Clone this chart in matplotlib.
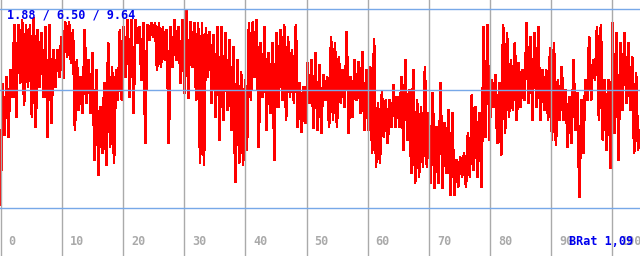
import numpy as np
import matplotlib
matplotlib.use("Agg")
import matplotlib.pyplot as plt
from matplotlib.transforms import blended_transform_factory

# per-column extremes (left to right)
peaks = [6.72, 6.99, 7.27, 9.02, 9.02, 9.22, 9.02, 9.02, 9.30, 8.83, 8.71, 8.95,
         9.02, 8.05, 8.05, 8.55, 9.14, 9.14, 8.83, 7.66, 6.99, 8.83, 7.66, 7.93,
         7.27, 5.82, 6.76, 8.32, 7.38, 7.27, 8.83, 8.95, 9.22, 9.22, 9.22, 8.95,
         9.10, 9.02, 9.10, 9.10, 9.10, 8.95, 8.83, 8.95, 9.22, 8.95, 9.22,
         9.61, 9.14, 9.10, 9.10, 9.10, 8.91, 8.75, 8.63, 8.95, 8.95, 8.71, 8.44,
         8.16, 7.66, 7.19, 6.88, 9.10, 9.14, 9.22, 8.32, 8.95, 7.93, 8.32,
         8.71, 8.83, 9.02, 8.55, 8.05, 9.02, 6.76, 6.60, 7.54, 7.66, 7.93, 7.46,
         7.07, 6.99, 8.55, 8.32, 7.77, 7.27, 8.75, 6.99, 7.66, 7.58, 7.97,
         7.27, 7.38, 8.48, 5.98, 6.41, 6.09, 6.09, 6.68, 6.21, 6.99, 7.66, 6.48,
         7.27, 6.09, 5.82, 7.38, 5.59, 6.37, 5.04, 6.76, 5.20, 5.70, 5.59,
         3.75, 3.87, 4.02, 4.80, 6.29, 5.82, 5.59, 8.95, 9.02, 6.88, 7.07, 6.76,
         9.02, 8.71, 7.66, 8.32, 7.54, 7.27, 9.10, 8.55, 8.71, 8.95, 7.27,
         7.27, 8.12, 8.32, 6.88, 7.38, 6.48, 6.21, 7.66, 6.37, 6.09, 6.88, 8.55,
         7.66, 8.95, 9.02, 6.88, 6.88, 9.10, 8.71, 8.32, 8.71, 8.32, 7.77, 7.15,
         4.92]

troughs = [1.99, 4.73, 4.65, 6.21, 5.43, 6.76, 5.90, 6.60, 5.43, 5.04, 6.60, 6.21,
           4.65, 5.20, 6.60, 6.99, 6.95, 7.77, 7.54, 4.92, 5.70, 5.59, 5.98, 5.59,
           3.75, 3.16, 4.02, 3.55, 4.26, 3.63, 6.09, 6.09, 6.99, 6.21, 5.59, 8.32,
           6.88, 4.41, 8.44, 8.55, 7.27, 7.38, 7.66, 4.41, 7.38, 7.66, 6.76,
           6.37, 6.17, 7.38, 6.09, 3.63, 3.55, 6.99, 5.98, 5.43, 4.53, 5.31, 5.70,
           4.92, 2.89, 3.63, 3.55, 4.14, 6.09, 6.99, 4.26, 6.21, 4.92, 5.59,
           3.75, 5.82, 6.09, 5.31, 6.21, 5.98, 5.04, 4.84, 5.20, 5.98, 5.00, 4.92,
           4.80, 6.09, 5.04, 5.31, 5.04, 5.98, 5.82, 4.80, 5.43, 6.09, 5.59,
           4.92, 4.92, 4.02, 3.48, 3.63, 4.65, 4.41, 5.04, 5.04, 5.04, 4.14, 4.53,
           3.24, 2.85, 3.09, 3.48, 3.48, 2.85, 2.66, 2.85, 2.66, 3.24, 2.38,
           2.38, 2.70, 3.09, 2.70, 3.09, 3.36, 3.09, 2.70, 4.65, 4.53, 5.82, 4.41,
           3.95, 4.80, 5.43, 5.70, 5.31, 5.82, 6.09, 5.98, 5.31, 5.82, 5.31,
           5.70, 5.31, 4.53, 4.34, 5.31, 5.31, 4.26, 4.41, 4.92, 2.30, 4.02, 6.09,
           6.09, 6.88, 5.31, 4.53, 4.14, 3.44, 4.80, 3.75, 5.70, 5.98, 5.70, 4.02,
           4.14]

levels = [1.88, 6.50, 9.64]
xticks = [0, 10, 20, 30, 40, 50, 60, 70, 80, 90, 100]
summary = "1.88 / 6.50 / 9.64"
ratio_label = "BRat 1,09"

series = np.column_stack([troughs, peaks]).ravel()
x = np.linspace(0, 104.5, len(series))

fig = plt.figure(figsize=(6.4, 2.56), dpi=100)
ax = fig.add_axes([0, 0, 1, 1])
ax.set_xlim(-0.1, 104.5)
ax.set_ylim(0, 10)
ax.axis("off")

ax.plot(x, series, color="#ff0000", lw=1.2, antialiased=False, zorder=2)

for t in xticks:
    ax.axvline(t, color="#aaaaaa", lw=1, zorder=3)
for v in levels:
    ax.axhline(v, color="#77a8e8", lw=1, zorder=3)

trans = blended_transform_factory(ax.transData, ax.transAxes)
for t in xticks:
    ax.text(t + 1.3, 0.058, str(t), transform=trans, color="#aaaaaa",
            family="DejaVu Sans Mono", weight="bold", fontsize=8.5,
            va="center", ha="left", zorder=4)

ax.text(0.011, 0.943, summary, transform=ax.transAxes, color="#0000ee",
        family="DejaVu Sans Mono", weight="bold", fontsize=8.5,
        va="center", ha="left", zorder=5)
ax.text(0.889, 0.058, ratio_label, transform=ax.transAxes, color="#0000ee",
        family="DejaVu Sans Mono", weight="bold", fontsize=8.5,
        va="center", ha="left", zorder=5)

fig.savefig("out.png", dpi=100)
